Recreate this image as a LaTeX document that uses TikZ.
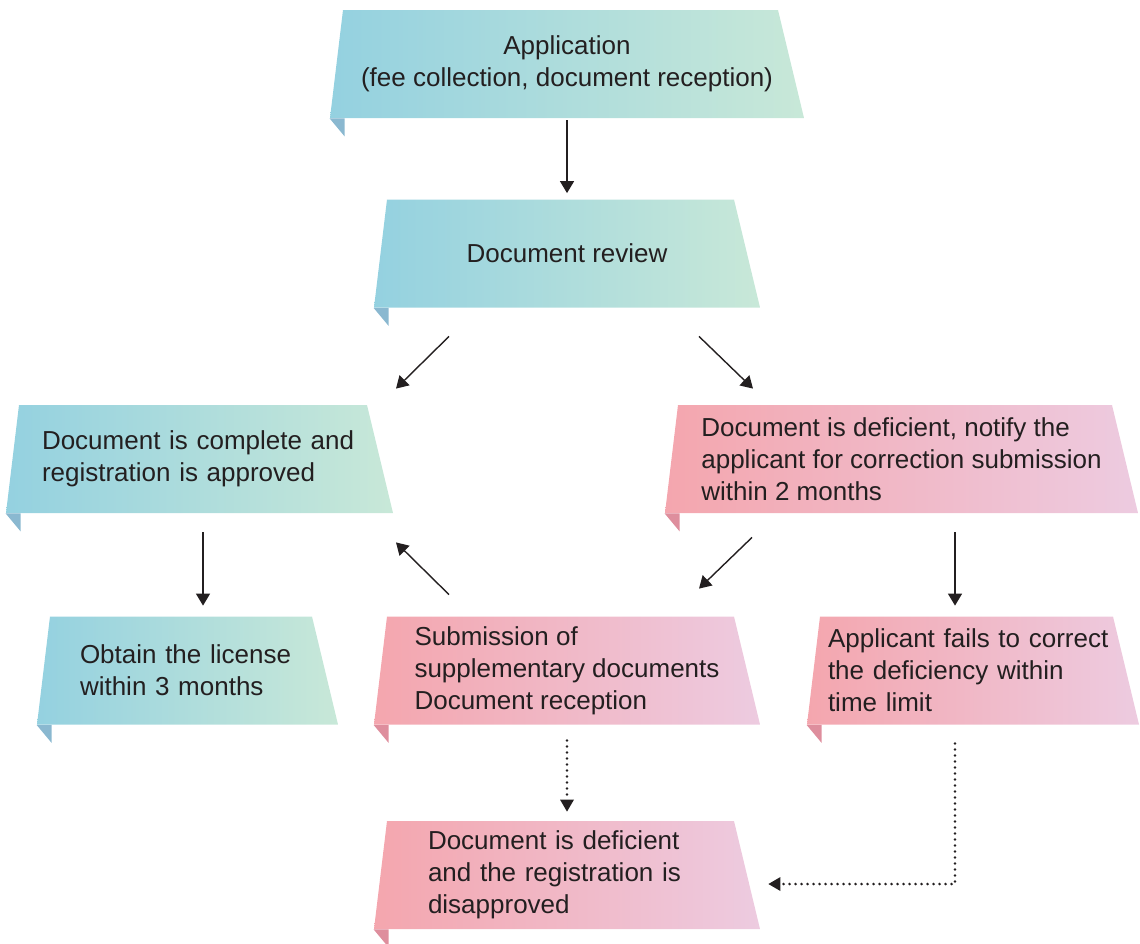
\documentclass[tikz,border=0pt]{standalone}
\usepackage{fontspec}
\setmainfont{Liberation Sans}
\usepackage{xcolor}
\usetikzlibrary{arrows.meta,calc}
\definecolor{flowblueL}{RGB}{148,209,224}
\definecolor{flowblueR}{RGB}{200,232,216}
\definecolor{flowblueF}{RGB}{138,184,208}
\definecolor{flowpinkL}{RGB}{244,166,174}
\definecolor{flowpinkR}{RGB}{237,203,224}
\definecolor{flowpinkF}{RGB}{222,142,157}
\definecolor{flowtext}{RGB}{35,31,32}
\tikzset{
    % box: the node is a plain rectangle, the slanted banner is shaded inside it
    flow_box/.style={rectangle, minimum height=54pt, inner sep=0pt,
        align=left, text=flowtext, font=\fontsize{13}{16}\selectfont},
    flow_blue/.style={flow_box, minimum width=#1,
        path picture={\shade[left color=flowblueL, right color=flowblueR]
            (path picture bounding box.south west) -- (path picture bounding box.south east)
            -- ($(path picture bounding box.north east)+(-26,0)$)
            -- ($(path picture bounding box.north west)+(13,0)$) -- cycle;}},
    flow_pink/.style={flow_box, minimum width=#1,
        path picture={\shade[left color=flowpinkL, right color=flowpinkR]
            (path picture bounding box.south west) -- (path picture bounding box.south east)
            -- ($(path picture bounding box.north east)+(-26,0)$)
            -- ($(path picture bounding box.north west)+(13,0)$) -- cycle;}},
    flow_arrow/.style={line width=0.7pt, draw=flowtext, -{Triangle[length=6pt,width=7pt]}},
    % dotted connector, round dots with a solid tip
    flow_dotted/.style={flow_arrow, line cap=round, dash pattern=on 0pt off 3pt, line width=1.4pt,
        -{Triangle[length=6pt,width=7pt,line width=0pt]}},
}

\begin{document}
\begin{tikzpicture}[x=0.5pt, y=-0.5pt]
        \useasboundingbox (0,0) rectangle (1140,943);

        % Row 1 and 2: application and review
        \node[flow_blue=237pt, align=center] (app) at (567,64)    {Application\\(fee collection, document reception)};
        \node[flow_blue=193pt, align=center] (rev) at (567,253.5) {Document review};

        % Row 3: result of the review
        \node[flow_blue=193.5pt, text width=157.5pt] (cmp) at (199.5,459) {Document is complete and\\registration is approved};
        \node[flow_pink=236.5pt] (def) at (901.5,459) {Document is deficient, notify the\\applicant for correction submission\\within 2 months};

        % Row 4: follow-up
        \node[flow_blue=150.5pt, text width=107.5pt] (obt)  at (187.5,670.5) {Obtain the license\\within 3 months};
        \node[flow_pink=193pt]                       (sub)  at (567,670.5)   {Submission of\\supplementary documents\\Document reception};
        \node[flow_pink=166pt, text width=145pt]     (fail) at (973,670.5)   {Applicant fails to correct\\the deficiency within\\time limit};

        % Row 5: rejection
        \node[flow_pink=193pt, text width=139pt] (dis) at (567,875) {Document is deficient\\and the registration is\\disapproved};

        % folded corners
        \foreach \n in {app,rev,cmp,obt}
            \fill[flowblueF] (\n.south west) -- ++(15,0) -- ++(0,18) -- cycle;
        \foreach \n in {def,sub,fail,dis}
            \fill[flowpinkF] (\n.south west) -- ++(15,0) -- ++(0,18) -- cycle;

        % Connectors
        \draw[flow_arrow] ($(app.south)+(0,2)$)        -- ($(rev.north)+(0,-6)$);
        \draw[flow_arrow] ($(rev.south)+(-118,28.5)$)  -- ($(cmp.north)+(196.5,-16)$);
        \draw[flow_arrow] ($(rev.south)+(132,28.5)$)   -- ($(def.north)+(-148.5,-16)$);
        \draw[flow_arrow] ($(cmp.south)+(3.5,19)$)     -- ($(obt.north)+(15.5,-10.5)$);
        \draw[flow_arrow] ($(def.south)+(-149.5,24)$)  -- ($(sub.north)+(132,-27.5)$);
        \draw[flow_arrow] ($(def.south)+(53.5,19)$)    -- ($(fail.north)+(-18,-10.5)$);
        \draw[flow_arrow] ($(sub.north)+(-118,-21.5)$) -- ($(cmp.south)+(196.5,29)$);
        \draw[flow_dotted] ($(sub.south)+(0,15.5)$)    -- ($(dis.north)+(0,-9)$);
        \draw[flow_dotted] ($(fail.south)+(-18,18.5)$) |- ($(dis.east)+(8,9)$);
    \end{tikzpicture}
\end{document}
